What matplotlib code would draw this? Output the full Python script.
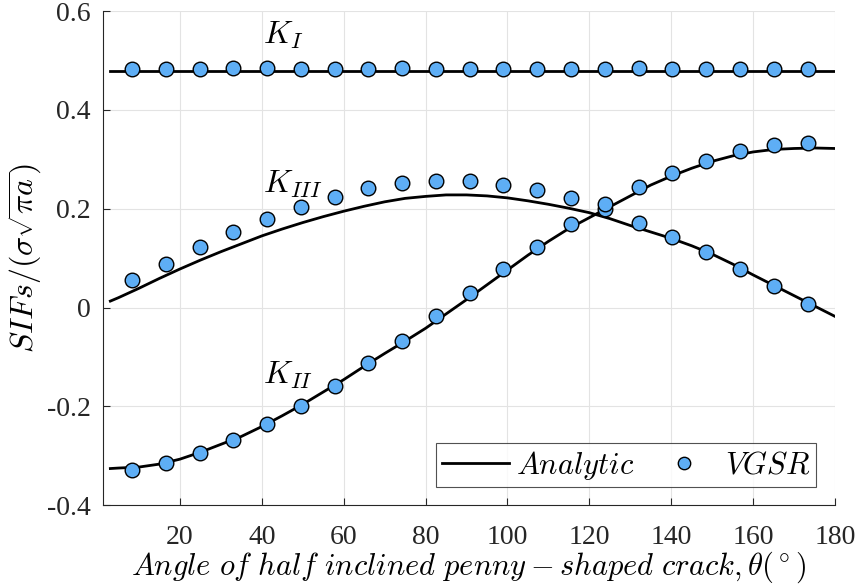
import numpy as np
import matplotlib
matplotlib.use("Agg")
import matplotlib.pyplot as plt

# analytic curves at 5 degree steps
theta_an = [3, 5, 10, 15, 20, 25, 30, 35, 40, 45, 50, 55, 60, 65, 70, 75, 80, 85, 90,
            95, 100, 105, 110, 115, 120, 125, 130, 135, 140, 145, 150, 155, 160, 165,
            170, 175, 180]
k1_an = [0.478] * len(theta_an)
k2_an = [-0.326, -0.325, -0.323, -0.317, -0.307, -0.293, -0.277, -0.261, -0.241, -0.219,
         -0.196, -0.171, -0.146, -0.119, -0.093, -0.068, -0.042, -0.013, 0.016,
         0.046, 0.076, 0.106, 0.134, 0.160, 0.182, 0.204, 0.226, 0.248, 0.266, 0.282,
         0.296, 0.307, 0.315, 0.320, 0.322, 0.323, 0.322]
k3_an = [0.013, 0.020, 0.039, 0.059, 0.078, 0.096, 0.113, 0.129, 0.145, 0.159, 0.172,
         0.184, 0.195, 0.205, 0.214, 0.221, 0.225, 0.228, 0.228, 0.226, 0.222, 0.216,
         0.209, 0.201, 0.192, 0.180, 0.166, 0.153, 0.140, 0.125, 0.108, 0.088, 0.066,
         0.045, 0.024, 0.003, -0.018]

# VGSR results
theta_pts = [8.3, 16.5, 24.8, 33.0, 41.3, 49.5, 57.8, 66.0, 74.3, 82.5, 90.8, 99.0,
             107.3, 115.5, 123.8, 132.0, 140.3, 148.5, 156.8, 165.0, 173.3]
k1_pts = [0.483, 0.483, 0.483, 0.484, 0.484, 0.483, 0.483, 0.483, 0.484, 0.483, 0.483,
          0.483, 0.483, 0.482, 0.483, 0.484, 0.483, 0.483, 0.482, 0.483, 0.483]
k2_pts = [-0.329, -0.314, -0.294, -0.268, -0.235, -0.199, -0.158, -0.113, -0.067, -0.018,
          0.029, 0.078, 0.122, 0.170, 0.200, 0.244, 0.273, 0.297, 0.316, 0.329, 0.334]
k3_pts = [0.055, 0.089, 0.123, 0.152, 0.180, 0.204, 0.224, 0.241, 0.252, 0.256, 0.256,
          0.249, 0.237, 0.222, 0.210, 0.171, 0.143, 0.113, 0.078, 0.044, 0.008]

plt.rcParams["mathtext.fontset"] = "cm"
plt.rcParams["font.family"] = "Liberation Serif"
plt.rcParams["axes.unicode_minus"] = False

fig = plt.figure(figsize=(8.56, 5.88), dpi=100)
ax = fig.add_axes([0.1203, 0.141, 0.8552, 0.840])

lc = "black"
mc = "#5EAEF5"
for y in (k1_an, k2_an, k3_an):
    ax.plot(theta_an, y, color=lc, lw=2.0, zorder=3)
ax.plot([], [], color=lc, lw=2.0, label=r"$Analytic$")
for i, y in enumerate((k1_pts, k2_pts, k3_pts)):
    ax.plot(theta_pts, y, ls="none", marker="o", ms=10.5, mfc=mc, mec="black",
            mew=1.0, zorder=4, label=r"$VGSR$" if i == 0 else None)

ax.text(40.3, 0.552, r"$K_I$", fontsize=23, ha="left", va="center")
ax.text(40.3, 0.250, r"$K_{III}$", fontsize=23, ha="left", va="center")
ax.text(40.3, -0.137, r"$K_{II}$", fontsize=23, ha="left", va="center")

ax.set_xlim(1.2, 180)
ax.set_ylim(-0.4, 0.6)
ax.set_xticks(range(20, 181, 20))
ax.set_yticks([-0.4, -0.2, 0, 0.2, 0.4, 0.6])
ax.set_yticklabels(["-0.4", "-0.2", "0", "0.2", "0.4", "0.6"])
ax.tick_params(direction="in", length=5, width=0.8, labelsize=20, colors="#262626")
ax.tick_params(axis="y", pad=9)
ax.tick_params(axis="x", pad=14)
ax.grid(True, color="#e3e3e3", lw=0.8)
ax.set_axisbelow(True)
for s in ("top", "right"):
    ax.spines[s].set_visible(False)
for s in ("left", "bottom"):
    ax.spines[s].set_color("#262626")
    ax.spines[s].set_linewidth(0.8)

ax.set_xlabel(r"$Angle\ of\ half\ inclined\ penny-shaped\ crack, \theta(^\circ)$",
              fontsize=22, labelpad=0)
ax.set_ylabel(r"$SIFs/(\sigma\sqrt{\pi a})$", fontsize=23, labelpad=2)

leg = ax.legend(loc="lower right", ncol=2, fontsize=22, frameon=True, fancybox=False,
                edgecolor="#262626", markerscale=0.85, handlelength=2.2,
                handletextpad=0.25, columnspacing=0.5, borderpad=0.18,
                borderaxespad=0, bbox_to_anchor=(0.974, 0.036))
leg.get_frame().set_linewidth(0.8)

fig.savefig("out.png", dpi=100)
